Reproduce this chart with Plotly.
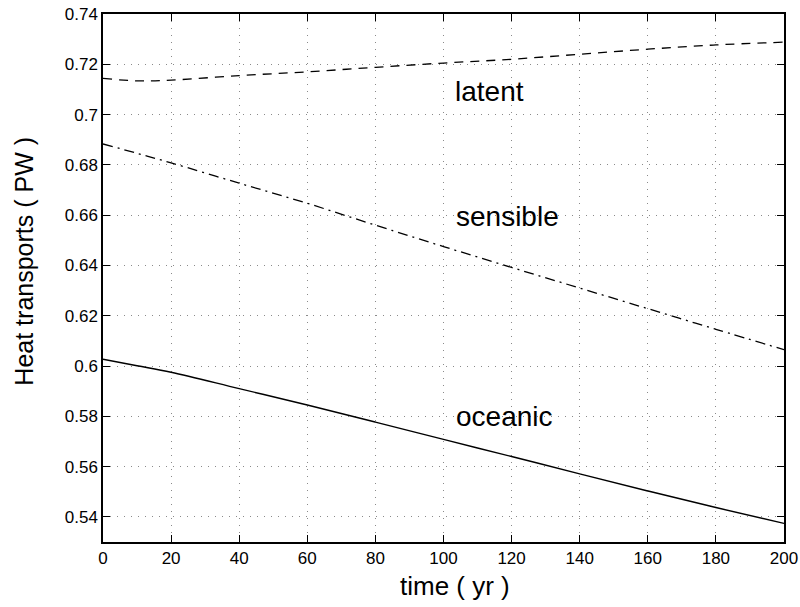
import plotly.graph_objects as go

time_yr = [0, 10, 20, 40, 60, 80, 100, 120, 140, 160, 180, 200]
latent = [0.7144, 0.7134, 0.7137, 0.7155, 0.7170, 0.7188, 0.7205, 0.7220, 0.7240, 0.7260, 0.7277, 0.7288]
sensible = [0.6883, 0.6846, 0.6808, 0.6727, 0.6647, 0.6560, 0.6475, 0.6392, 0.6310, 0.6228, 0.6146, 0.6065]
oceanic = [0.6027, 0.6001, 0.5975, 0.5910, 0.5845, 0.5777, 0.5708, 0.5640, 0.5571, 0.5503, 0.5437, 0.5374]

labels = ["latent", "sensible", "oceanic"]
label_x = [113.5, 118.8, 117.8]
label_y = [0.7090, 0.6596, 0.5798]

x_ticks = list(range(0, 201, 20))
y_ticks = [0.54, 0.56, 0.58, 0.6, 0.62, 0.64, 0.66, 0.68, 0.7, 0.72, 0.74]
y_tick_text = ["0.54", "0.56", "0.58", "0.6", "0.62", "0.64", "0.66", "0.68", "0.7", "0.72", "0.74"]

x_title = "time ( yr )"
y_title = "Heat transports ( PW )"

FONT = "Liberation Sans, Arial, Helvetica"

fig = go.Figure()
fig.add_trace(go.Scatter(x=time_yr, y=latent, mode="lines",
                         line=dict(color="black", width=1.3, dash="9px,7px"), line_shape="spline"))
fig.add_trace(go.Scatter(x=time_yr, y=sensible, mode="lines",
                         line=dict(color="black", width=1.3, dash="10px,5px,2px,5px"), line_shape="spline"))
fig.add_trace(go.Scatter(x=time_yr, y=oceanic, mode="lines",
                         line=dict(color="black", width=1.4), line_shape="spline"))

for t, xx, yy in zip(labels, label_x, label_y):
    fig.add_annotation(x=xx, y=yy, text=t, showarrow=False,
                       font=dict(size=28, color="black", family=FONT))

# axis titles (placed as annotations to match the reference offsets)
fig.add_annotation(xref="paper", yref="paper", x=0.517, y=-0.083, text=x_title,
                   showarrow=False, xanchor="center", yanchor="middle",
                   font=dict(size=26, color="black", family=FONT))
fig.add_annotation(xref="paper", yref="paper", x=-0.116, y=0.531, text=y_title,
                   showarrow=False, xanchor="center", yanchor="middle", textangle=-90,
                   font=dict(size=25, color="black", family=FONT))

axis_common = dict(
    showline=True, linecolor="black", linewidth=1.5, mirror="ticks",
    ticks="inside", ticklen=7, tickcolor="black", tickwidth=1.2,
    showgrid=True, gridcolor="#8a8a8a", griddash="1px,6px", gridwidth=1,
    zeroline=False, automargin=False,
    tickfont=dict(size=17, color="black", family=FONT),
)

fig.update_xaxes(range=[0, 200], tickvals=x_ticks, **axis_common)
fig.update_yaxes(range=[0.53, 0.74], tickvals=y_ticks, ticktext=y_tick_text, **axis_common)

fig.update_layout(
    width=800, height=607,
    margin=dict(l=103, r=16, t=14, b=65),
    plot_bgcolor="white", paper_bgcolor="white",
    showlegend=False,
)

fig.write_html("out.html")
